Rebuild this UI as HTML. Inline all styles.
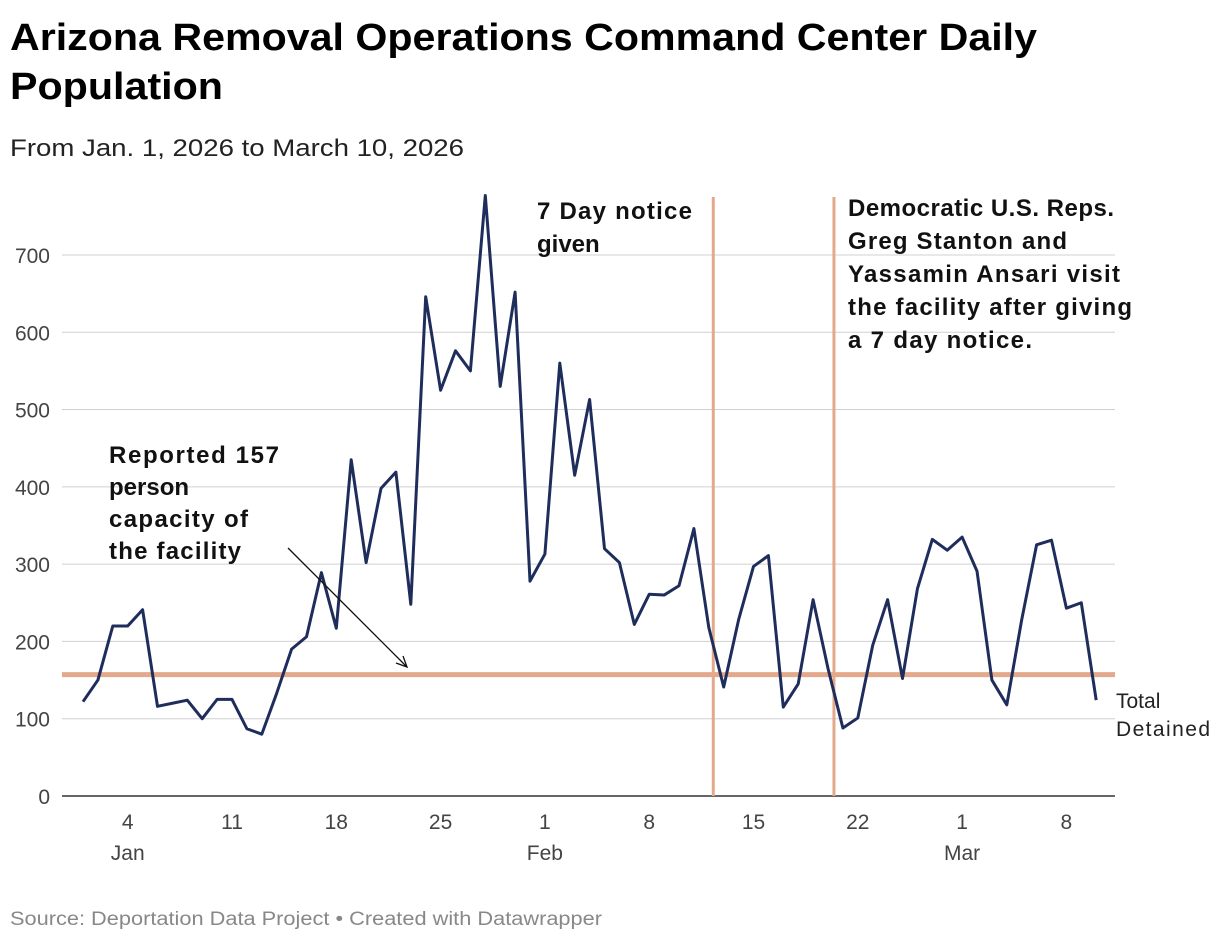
<!DOCTYPE html>
<html><head><meta charset="utf-8"><style>
body{margin:0;background:#fff;font-family:"Liberation Sans",Roboto,sans-serif;}
svg{display:block}
</style></head><body>
<svg width="1220" height="942" xmlns="http://www.w3.org/2000/svg">
<text x="10" y="50" font-size="38" font-weight="bold" fill="#000" textLength="1027" lengthAdjust="spacingAndGlyphs">Arizona Removal Operations Command Center Daily</text>
<text x="10" y="99" font-size="38" font-weight="bold" fill="#000" textLength="213" lengthAdjust="spacingAndGlyphs">Population</text>
<text x="10" y="156" font-size="24" fill="#222" textLength="454" lengthAdjust="spacingAndGlyphs">From Jan. 1, 2026 to March 10, 2026</text>
<g id="grid"></g>
<g id="marks"></g>
<g id="anno" font-size="24" font-weight="bold" fill="#111">
<text x="537" y="219"><tspan x="537" textLength="155">7 Day notice</tspan><tspan x="537" dy="33">given</tspan></text>
<text x="848" y="216"><tspan x="848" textLength="266">Democratic U.S. Reps.</tspan><tspan x="848" dy="33" textLength="219">Greg Stanton and</tspan><tspan x="848" dy="33" textLength="272">Yassamin Ansari visit</tspan><tspan x="848" dy="33" textLength="284">the facility after giving</tspan><tspan x="848" dy="33" textLength="184">a 7 day notice.</tspan></text>
<text x="109" y="463"><tspan x="109" textLength="170">Reported 157</tspan><tspan x="109" dy="32">person</tspan><tspan x="109" dy="32" textLength="139">capacity of</tspan><tspan x="109" dy="32" textLength="132">the facility</tspan></text>
</g>
<line x1="288" y1="548" x2="406" y2="666" stroke="#111" stroke-width="1.3"/>
<polyline points="396,663 407,667 403,656" fill="none" stroke="#111" stroke-width="1.3"/>
<text x="1116" y="708" font-size="21" fill="#222"><tspan x="1116">Total</tspan><tspan x="1116" dy="28" textLength="94">Detained</tspan></text>
<text x="10" y="925" font-size="19" fill="#888" textLength="592" lengthAdjust="spacingAndGlyphs">Source: Deportation Data Project • Created with Datawrapper</text>
</svg>
<script>
const values=[122,150,220,220,241,116,120,124,100,125,125,87,80,133,190,206,289,217,435,302,398,419,248,646,525,576,550,777,530,652,278,313,560,415,513,320,302,222,261,260,272,346,218,141,228,297,311,115,145,254,165,88,101,195,254,152,268,332,318,335,291,150,118,228,325,331,243,250,124];
const yTicks=[0,100,200,300,400,500,600,700];
const xTickDays=[3,10,17,24,31,38,45,52,59,66];
const xTickLabels=["4","11","18","25","1","8","15","22","1","8"];
const monthDays=[3,31,59];
const monthLabels=["Jan","Feb","Mar"];
const capacity=157;
const eventDays=[42.3,50.4];
const NS="http://www.w3.org/2000/svg";
const X=d=>83+d*14.9, Y=v=>796-v*0.7729;
const grid=document.getElementById('grid'), marks=document.getElementById('marks');
function mk(tag,attrs,parent){const e=document.createElementNS(NS,tag);for(const k in attrs)e.setAttribute(k,attrs[k]);parent.appendChild(e);return e;}
yTicks.forEach(t=>{
 const l=mk('line',{x1:62,x2:1115,y1:Y(t),y2:Y(t),stroke:t===0?'#333':'#d0d0d0','stroke-width':t===0?1.5:1},grid);
 
 
 const tx=mk('text',{x:50,y:Y(t)+8,'text-anchor':'end','font-size':21,fill:'#444'},grid);tx.textContent=t;
 
 
});
xTickDays.forEach((d,i)=>{
 const tx=mk('text',{x:X(d),y:829,'text-anchor':'middle','font-size':21,fill:'#444'},grid);tx.textContent=xTickLabels[i];
 
 
});
monthDays.forEach((d,i)=>{
 const tx=mk('text',{x:X(d),y:860,'text-anchor':'middle','font-size':21,fill:'#444'},grid);tx.textContent=monthLabels[i];
 
 
});
const cap=mk('line',{x1:62,x2:1115,y1:Y(capacity),y2:Y(capacity),stroke:'#e3a98a','stroke-width':5},marks);


eventDays.forEach(d=>{
 const l=mk('line',{x1:X(d),x2:X(d),y1:197,y2:796,stroke:'#e3a98a','stroke-width':3},marks);
 
 
});
const p=mk('polyline',{points:values.map((v,i)=>X(i)+','+Y(v)).join(' '),fill:'none',stroke:'#1f2d5c','stroke-width':3,'stroke-linejoin':'round'},marks);


</script>
</body></html>
